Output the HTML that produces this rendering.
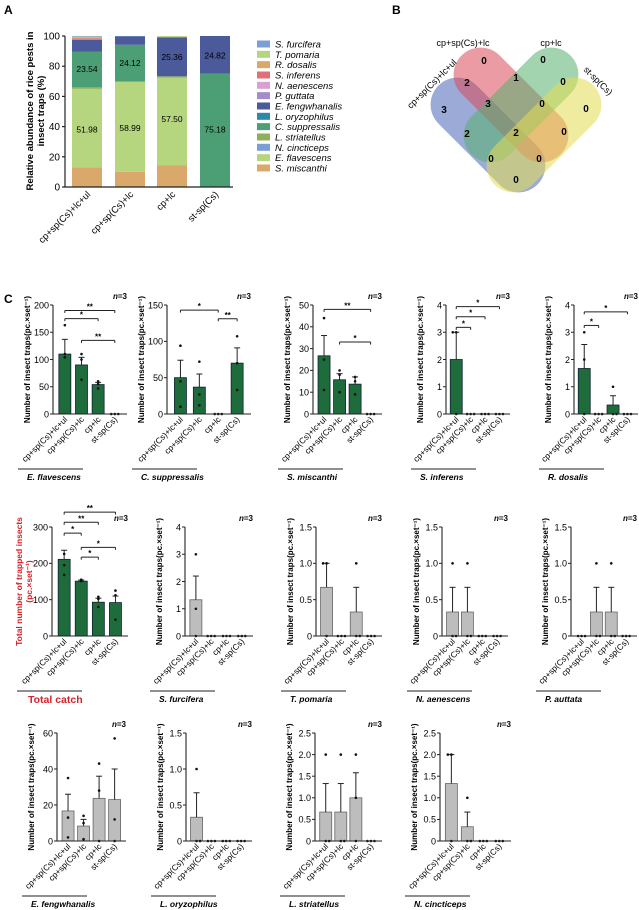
<!DOCTYPE html>
<html><head><meta charset="utf-8"><style>
body{margin:0;background:#fff}
svg{display:block;font-family:"Liberation Sans",Arial,sans-serif}
</style></head><body>
<svg id="s" width="639" height="910" viewBox="0 0 639 910" xmlns="http://www.w3.org/2000/svg">
<text x="4" y="14" font-size="12" font-weight="bold">A</text>
<text x="392" y="14" font-size="12" font-weight="bold">B</text>
<text x="4" y="303" font-size="12" font-weight="bold">C</text>
<g fill-opacity="0.55">
<rect x="418" y="108" width="140" height="54" rx="27" fill="#4a64b8" transform="rotate(45 488 135)"/>
<rect x="441" y="78" width="140" height="54" rx="27" fill="#d9485a" transform="rotate(45 511 105)"/>
<rect x="451" y="78" width="140" height="54" rx="27" fill="#58b070" transform="rotate(-45 521 105)"/>
<rect x="474" y="108" width="140" height="54" rx="27" fill="#e4dc50" transform="rotate(-45 544 135)"/>
</g>
<g font-size="10" font-weight="bold" text-anchor="middle">
<text x="484" y="64">0</text><text x="543" y="63">0</text><text x="444" y="113">3</text><text x="586" y="112">0</text>
<text x="467" y="86">2</text><text x="516" y="81">1</text><text x="563" y="85">0</text><text x="488" y="107">3</text>
<text x="542" y="107">0</text><text x="467" y="137">2</text><text x="516" y="136">2</text><text x="564" y="135">0</text>
<text x="491" y="162">0</text><text x="539" y="162">0</text><text x="516" y="183">0</text>
</g>
<g font-size="9" text-anchor="middle">
<text x="463" y="46">cp+sp(Cs)+lc</text><text x="551" y="46">cp+lc</text>
<text transform="translate(596,83) rotate(45)">st-sp(Cs)</text>
<text transform="translate(434,86) rotate(-45)">cp+sp(Cs)+lc+ul</text>
</g>
<g id="g"></g>
</svg>
<script>
var g=document.getElementById('g'),h='';
function T(x,y,s,a){return '<text x="'+x+'" y="'+y+'" '+(a||'')+'>'+s+'</text>';}
function L(x1,y1,x2,y2,c,w){return '<line x1="'+x1+'" y1="'+y1+'" x2="'+x2+'" y2="'+y2+'" stroke="'+(c||'#222')+'" stroke-width="'+(w||1)+'"/>';}
(function(){
var ax=65,top=36,bot=187,sy=function(v){return bot-v*(bot-top)/100;};
var C={mis:'#d9a86a',fla:'#b5d67f',str:'#8fb05a',sup:'#4c9e74',fen:'#4a5a9a',inf:'#e07078',dos:'#d9a86a',pom:'#b5d67f',fur:'#7b9fd4'};
var bars=[[72,[['mis',0,13],['fla',13,65],['str',65,66],['sup',66,89.5],['fen',89.5,97.5],['inf',97.5,98.5],['dos',98.5,99],['pom',99,99.6],['fur',99.6,100]]],
[115,[['mis',0,10],['fla',10,69.5],['str',69.5,70],['sup',70,94.2],['fen',94.2,99.7],['fur',99.7,100]]],
[157,[['mis',0,14.5],['fla',14.5,72.5],['str',72.5,73.3],['fen',73.3,99],['dos',99,99.5],['pom',99.5,100]]],
[200,[['sup',0,75.2],['fen',75.2,100]]]];
bars.forEach(function(b){b[1].forEach(function(s){h+='<rect x="'+b[0]+'" y="'+sy(s[2])+'" width="30" height="'+(sy(s[1])-sy(s[2]))+'" fill="'+C[s[0]]+'"/>';});});
var nums=[[87,78,'23.54'],[87,38,'51.98'],[130,82,'24.12'],[130,39,'58.99'],[172,86,'25.36'],[172,45,'57.50'],[215,87,'24.82'],[215,38,'75.18']];
nums.forEach(function(n){h+=T(n[0],sy(n[1])+3,n[2],'font-size="8.5" text-anchor="middle"');});
h+=L(ax,top,ax,bot,'#222',1.2)+L(ax,bot,233,bot,'#222',1.2);
for(var v=0;v<=100;v+=20){h+=L(ax-3,sy(v),ax,sy(v),'#222',1.2)+T(ax-5,sy(v)+3.5,v,'font-size="10" text-anchor="end"');}
h+='<text transform="translate(33,111) rotate(-90)" font-size="9.5" font-weight="bold" text-anchor="middle">Relative abundance of rice pests in</text>';
h+='<text transform="translate(44,111) rotate(-90)" font-size="9.5" font-weight="bold" text-anchor="middle">insect traps (%)</text>';
['cp+sp(Cs)+lc+ul','cp+sp(Cs)+lc','cp+lc','st-sp(Cs)'].forEach(function(s,i){var cx=[87,130,172,215][i]+4;h+='<text transform="translate('+cx+','+(bot+8)+') rotate(-45)" font-size="9.5" text-anchor="end">'+s+'</text>';});
var lg=[['S. furcifera','#7b9fd4'],['T. pomaria','#b5d67f'],['R. dosalis','#d9a86a'],['S. inferens','#e07078'],['N. aenescens','#d9a0d0'],['P. guttata','#a58cc8'],['E. fengwhanalis','#4a5a9a'],['L. oryzophilus','#2c8aa8'],['C. suppressalis','#4c9e74'],['L. striatellus','#8fb05a'],['N. cincticeps','#7b9fd4'],['E. flavescens','#b5d67f'],['S. miscanthi','#d9a86a']];
lg.forEach(function(l,i){var y=44+i*10.33;h+='<rect x="257" y="'+(y-3.5)+'" width="13" height="7" fill="'+l[1]+'"/>'+T(275,y+3.5,l[0],'font-size="9.5" font-style="italic"');});
})();
function panel(o){
var ax=o.ax+4,W=o.W-4,top=o.top,bot=o.bot,ym=o.ymax,sy=function(v){return bot-v/ym*(bot-top);};
var col=o.gray?'#bdbdbd':'#1e6b3c',st=o.gray?'#666':'#123';
var cx=[0,1,2,3].map(function(i){return ax+W*(0.16+0.225*i);});
o.vals.forEach(function(v,i){
 if(v>0){h+='<rect x="'+(cx[i]-6)+'" y="'+sy(v)+'" width="12" height="'+(bot-sy(v))+'" fill="'+col+'" stroke="'+st+'" stroke-width="0.8"/>';}
 var e=o.errs[i];if(e>v){h+=L(cx[i],sy(v),cx[i],sy(e),'#222',1)+L(cx[i]-3,sy(e),cx[i]+3,sy(e),'#222',1);}
 var p=o.pts[i]||[0,0,0];
 p.forEach(function(q,k){var d=p.filter(function(z){return z===q;}).length;var j=d>1?(k-1)*3.5:0;h+='<circle cx="'+(cx[i]+j)+'" cy="'+sy(q)+'" r="1.3" fill="#111"/>';});
});
h+=L(ax,top,ax,bot,'#222',1.1)+L(ax,bot,ax+W,bot,'#222',1.1);
o.ticks.forEach(function(t){h+=L(ax-3,sy(t),ax,sy(t),'#222',1)+T(ax-4,sy(t)+3.3,(o.fmt?t.toFixed(1).replace('0.0','0'):t),'font-size="9" text-anchor="end"');});
(o.sigs||[]).forEach(function(s){var y=sy(s[2]);h+=L(cx[s[0]],y,cx[s[1]],y)+L(cx[s[0]],y,cx[s[0]],y+2.5)+L(cx[s[1]],y,cx[s[1]],y+2.5)+T((cx[s[0]]+cx[s[1]])/2,y-1,s[3],'font-size="8" font-weight="bold" text-anchor="middle"');});
h+='<text x="'+(ax+W)+'" y="'+(top-6)+'" font-size="8" font-weight="bold" text-anchor="end"><tspan font-style="italic">n</tspan>=3</text>';
['cp+sp(Cs)+lc+ul','cp+sp(Cs)+lc','cp+lc','st-sp(Cs)'].forEach(function(s,i){h+='<text transform="translate('+(cx[i]+3)+','+(bot+6)+') rotate(-45)" font-size="8.3" text-anchor="end">'+s+'</text>';});
h+=L(ax-35,bot+55,ax+30,bot+55,'#222',1);
if(o.total){h+=T(ax-24,bot+67,'Total catch','font-size="10.5" font-weight="bold" fill="#d2232a"');
 h+='<text transform="translate('+(ax-30)+','+((top+bot)/2)+') rotate(-90)" font-size="8.5" font-weight="bold" fill="#d2232a" text-anchor="middle">Total number of trapped insects</text>';
 h+='<text transform="translate('+(ax-20)+','+((top+bot)/2)+') rotate(-90)" font-size="8.5" font-weight="bold" fill="#d2232a" text-anchor="middle">(pc.×set⁻¹)</text>';}
else{h+=T(ax-26,bot+66,o.sp,'font-size="8.5" font-weight="bold" font-style="italic"');
 h+='<text transform="translate('+(ax-23)+','+((top+bot)/2)+') rotate(-90)" font-size="8" font-weight="bold" text-anchor="middle">Number of insect traps(pc.×set⁻¹)</text>';}
}
var r1={top:305,bot:414},r2={top:527,bot:636},r3={top:733,bot:841};
function P(r,o){o.top=r.top;o.bot=r.bot;panel(o);}
P(r1,{ax:49,W:78,ymax:200,ticks:[0,50,100,150,200],vals:[110,90,54,0],errs:[137,104,58,0],pts:[[163,110,104],[110,100,63],[60,55,47],[0,0,0]],sigs:[[0,3,190,'**'],[0,2,175,'*'],[1,3,135,'**']],sp:'E. flavescens'});
P(r1,{ax:163,W:88,ymax:150,ticks:[0,50,100,150],vals:[50,37,0,70],errs:[74,55,0,91],pts:[[94,45,10],[72,27,12],[0,0,0],[107,70,33]],sigs:[[0,2,143,'*'],[2,3,131,'**']],sp:'C. suppressalis'});
P(r1,{ax:309,W:73,ymax:50,ticks:[0,10,20,30,40,50],vals:[26.7,15.7,13.7,0],errs:[36,18.5,17,0],pts:[[44,25,11],[20,18,10],[17,15,9],[0,0,0]],sigs:[[0,3,48,'**'],[1,3,33,'*']],sp:'S. miscanthi'});
P(r1,{ax:442,W:68,ymax:4,ticks:[0,1,2,3,4],vals:[2,0,0,0],errs:[3,0,0,0],pts:[[3,3,0],[0,0,0],[0,0,0],[0,0,0]],sigs:[[0,1,3.18,'*'],[0,2,3.57,'*'],[0,3,3.94,'*']],sp:'S. inferens'});
P(r1,{ax:570,W:68,ymax:4,ticks:[0,1,2,3,4],vals:[1.67,0,0.33,0],errs:[2.55,0,0.67,0],pts:[[3,2,0],[0,0,0],[1,0,0],[0,0,0]],sigs:[[0,1,3.25,'*'],[0,3,3.75,'*']],sp:'R. dosalis'});
P(r2,{ax:48,W:80,ymax:300,ticks:[0,100,200,300],vals:[211,151,93,92],errs:[236,154,104,110],pts:[[226,195,168],[155,152,151],[108,102,80],[125,112,45]],sigs:[[0,3,341,'**'],[0,2,313,'**'],[0,1,283,'*'],[1,3,244,'*'],[1,2,217,'*']],total:true});
P(r2,{ax:181,W:72,ymax:4,ticks:[0,1,2,3,4],gray:1,vals:[1.33,0,0,0],errs:[2.2,0,0,0],pts:[[3,1,0]],sp:'S. furcifera'});
P(r2,{ax:312,W:70,ymax:1.5,fmt:1,ticks:[0,0.5,1,1.5],gray:1,vals:[0.67,0,0.33,0],errs:[1,0,0.67,0],pts:[[1,1,0],[0,0,0],[1,0,0]],sp:'T. pomaria'});
P(r2,{ax:438,W:70,ymax:1.5,fmt:1,ticks:[0,0.5,1,1.5],gray:1,vals:[0.33,0.33,0,0],errs:[0.67,0.67,0,0],pts:[[1,0,0],[1,0,0]],sp:'N. aenescens'});
P(r2,{ax:567,W:70,ymax:1.5,fmt:1,ticks:[0,0.5,1,1.5],gray:1,vals:[0,0.33,0.33,0],errs:[0,0.67,0.67,0],pts:[[0,0,0],[1,0,0],[1,0,0]],sp:'P. auttata'});
P(r3,{ax:53,W:73,ymax:60,ticks:[0,20,40,60],gray:1,vals:[16.7,8.3,23.7,23],errs:[26,12,36,40],pts:[[35,13,2],[14,10,1],[43,28,0],[57,12,0]],sp:'E. fengwhanalis'});
P(r3,{ax:182,W:70,ymax:1.5,fmt:1,ticks:[0,0.5,1,1.5],gray:1,vals:[0.33,0,0,0],errs:[0.67,0,0,0],pts:[[1,0,0]],sp:'L. oryzophilus'});
P(r3,{ax:311,W:71,ymax:2.5,fmt:1,ticks:[0,0.5,1,1.5,2,2.5],gray:1,vals:[0.67,0.67,1,0],errs:[1.33,1.33,1.58,0],pts:[[2,0,0],[2,0,0],[2,1,0]],sp:'L. striatellus'});
P(r3,{ax:436,W:75,ymax:2.5,fmt:1,ticks:[0,0.5,1,1.5,2,2.5],gray:1,vals:[1.33,0.33,0,0],errs:[2,0.67,0,0],pts:[[2,2,0],[1,0,0]],sp:'N. cincticeps'});
g.innerHTML=h;
</script>
</body></html>
